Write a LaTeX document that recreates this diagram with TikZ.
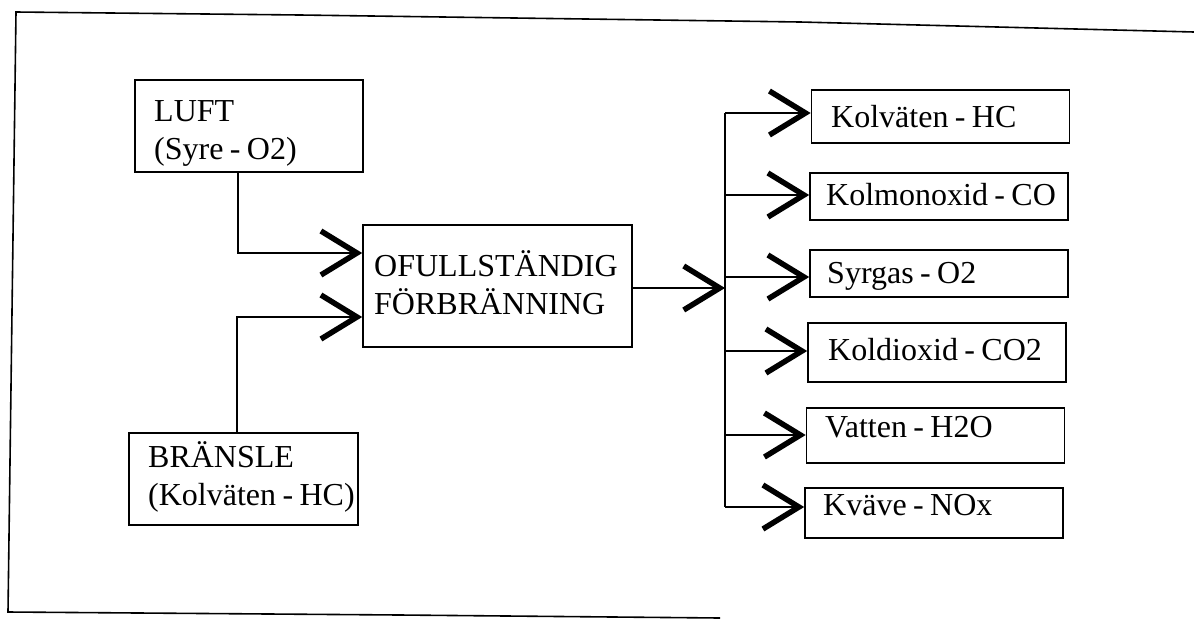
\documentclass[tikz,border=0pt]{standalone}
\usepackage{fontspec}
\setmainfont{Liberation Serif}[WordSpace=0.8]
\usetikzlibrary{arrows.meta}
\begin{document}
\begin{tikzpicture}[x=1pt,y=-1pt,
  box/.style={draw, line width=1.6pt, rectangle, inner sep=0pt},
  txt/.style={inner sep=0pt, align=left, font=\fontsize{32}{38}\selectfont},
  conn/.style={line width=1.5pt, -{Straight Barb[length=36pt,width=44pt,line width=5.5pt]}},
  wire/.style={line width=1.5pt}]
\useasboundingbox (0,0) rectangle (1194,619);
% outer frame
\draw[line width=1.6pt] (1194,32) -- (800,22) -- (300,15) -- (16,12) -- (8,612) -- (400,615) -- (720,618);
% input boxes
\node[box, minimum width=228pt, minimum height=92pt] (luft) at (249,126) {};
\node[txt, anchor=west] (luftT) at (154,133) {LUFT\\(Syre - O2)};
\node[box, minimum width=229pt, minimum height=92pt] (bransle) at (243.5,479) {};
\node[txt, anchor=west] (bransleT) at (148,477) {BRÄNSLE\\(Kolväten - HC)};
% center box
\node[box, minimum width=269pt, minimum height=122pt] (forbr) at (497.5,286) {};
\node[txt, anchor=west] (forbrT) at (374,283) {OFULLSTÄNDIG\\FÖRBRÄNNING};
% output boxes
\tikzset{outbox/.style={box, minimum width=258pt}}
\node[outbox, minimum height=53pt] (hc) at (940.5,116.5) {};
\node[txt, anchor=base west] (hcT) at (831,127) {Kolväten - HC};
\node[outbox, minimum height=47pt] (co) at (939,196.5) {};
\node[txt, anchor=base west] (coT) at (826,205) {Kolmonoxid - CO};
\node[outbox, minimum height=47pt] (o2) at (939,273.5) {};
\node[txt, anchor=base west] (o2T) at (827,283) {Syrgas - O2};
\node[outbox, minimum height=59pt] (co2) at (937,352.5) {};
\node[txt, anchor=base west] (co2T) at (828,360) {Koldioxid - CO2};
\node[outbox, minimum height=55pt] (h2o) at (935.5,435.5) {};
\node[txt, anchor=base west] (h2oT) at (825,437) {Vatten - H2O};
\node[outbox, minimum height=50pt] (nox) at (934,513) {};
\node[txt, anchor=base west] (noxT) at (823,515) {Kväve - NOx};
% junction coordinates
\coordinate (bus) at (725,288);
\coordinate (bustop) at (725,113);
\coordinate (busbot) at (725,507);
% inputs
\draw[conn] (luft.south -| 238,0) |- (forbr.west |- 0,253);
\draw[conn] (bransle.north -| 237,0) |- (forbr.west |- 0,317);
% output to bus
\draw[conn] (forbr.east |- bus) -- (bus);
\draw[wire] (bustop) -- (busbot);
% bus to outputs
\draw[conn] (bustop) -- (hc.west |- bustop);
\draw[conn] (725,195) -- (co.west |- 0,195);
\draw[conn] (725,277) -- (o2.west |- 0,277);
\draw[conn] (725,351) -- (co2.west |- 0,351);
\draw[conn] (725,435) -- (h2o.west |- 0,435);
\draw[conn] (busbot) -- (nox.west |- busbot);
\end{tikzpicture}
\end{document}
